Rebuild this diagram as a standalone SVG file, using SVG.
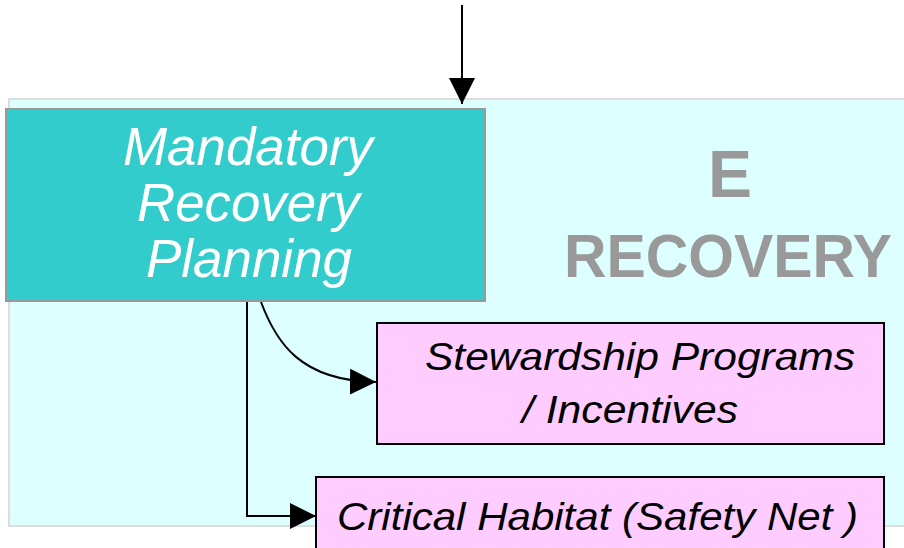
<svg xmlns="http://www.w3.org/2000/svg" width="904" height="548" viewBox="0 0 904 548">
<defs>
<style>
.panel{fill:#DDFFFF;stroke:#DDDDDD;stroke-width:2}
.teal{fill:#33CCCC;stroke:#999999;stroke-width:2}
.pink{fill:#FFCCFF;stroke:#000000;stroke-width:2}
.wt{font-family:"Liberation Sans",Arial,sans-serif;font-style:italic;font-size:53px;fill:#FFFFFF}
.bt{font-family:"Liberation Sans",Arial,sans-serif;font-style:italic;font-size:39px;fill:#000000}
.gt{font-family:"Liberation Sans",Arial,sans-serif;font-weight:bold;fill:#999999;text-anchor:middle}
.conn{fill:none;stroke:#000000;stroke-width:2}
</style>
<marker id="ah" markerWidth="26" markerHeight="26" viewBox="0 0 26 26" refX="26" refY="13" orient="auto" markerUnits="userSpaceOnUse">
<path d="M0,0 L26,13 L0,26 Z" fill="#000000"/>
</marker>
</defs>
<rect width="904" height="548" fill="#FFFFFF"/>
<g id="panel">
<rect class="panel" x="9" y="99" width="910" height="427"/>
<text class="gt" x="730" y="197" font-size="66">E</text>
<text class="gt" x="728" y="277" font-size="61" textLength="328" lengthAdjust="spacingAndGlyphs">RECOVERY</text>
</g>
<g id="connectors">
<path class="conn" d="M462,5 L462,104" marker-end="url(#ah)"/>
<path class="conn" d="M247,301 L247,516 L316,516" marker-end="url(#ah)"/>
<path class="conn" d="M261,302 C276,342 300,381 376,382" marker-end="url(#ah)"/>
</g>
<g id="mandatory">
<rect class="teal" x="6" y="109" width="479" height="192"/>
<text class="wt" x="123" y="165" textLength="250" lengthAdjust="spacingAndGlyphs">Mandatory</text>
<text class="wt" x="137" y="221" textLength="223" lengthAdjust="spacingAndGlyphs">Recovery</text>
<text class="wt" x="146" y="277" textLength="206" lengthAdjust="spacingAndGlyphs">Planning</text>
</g>
<g id="stewardship">
<rect class="pink" x="377" y="323" width="507" height="121"/>
<text class="bt" x="425" y="370" textLength="430" lengthAdjust="spacingAndGlyphs">Stewardship  Programs</text>
<text class="bt" x="522" y="423" textLength="216" lengthAdjust="spacingAndGlyphs">/ Incentives</text>
</g>
<g id="critical">
<rect class="pink" x="316" y="477" width="568" height="80"/>
<text class="bt" x="337" y="530" textLength="521" lengthAdjust="spacingAndGlyphs">Critical Habitat (Safety  Net )</text>
</g>
</svg>
